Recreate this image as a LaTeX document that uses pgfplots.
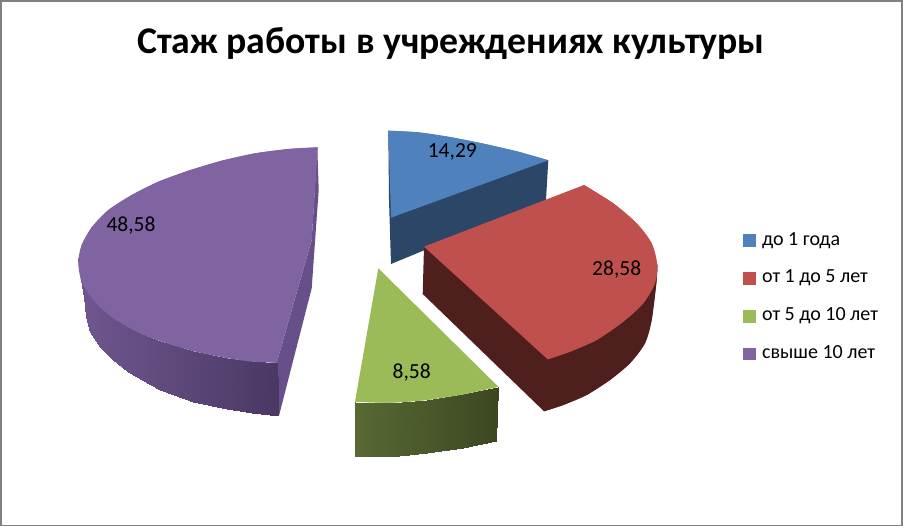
\documentclass[border=0pt]{standalone}
\usepackage{fontspec}
\setmainfont{Carlito}
\usepackage{pgfplots}
\pgfplotsset{compat=1.18}
\definecolor{cblue}{RGB}{79,129,189}
\definecolor{cred}{RGB}{192,80,77}
\definecolor{cgreen}{RGB}{155,187,89}
\definecolor{cviolet}{RGB}{128,100,162}
\definecolor{wblue}{RGB}{44,70,104}
\definecolor{wred}{RGB}{79,31,30}
\definecolor{wviolet}{RGB}{103,80,138}
\pgfplotsset{
  colormap={wallviolet}{rgb255=(112,87,144) rgb255=(74,57,99)},
  colormap={wallgreen}{rgb255=(88,105,52) rgb255=(60,71,33)},
  % each face is a polygon through the arc points, with the rounded arc laid over it
  face/.style={fill=#1,draw=none},
  arc/.style={fill=#1,draw=none,smooth},
  wall/.style={patch,patch type=rectangle,shader=interp,point meta=explicit,colormap name=#1},
}
\begin{document}
\begin{tikzpicture}
\begin{axis}[
  scale only axis,
  width=903pt,
  height=526pt,
  xmin=0, xmax=903,
  ymin=0, ymax=526,
  y dir=reverse,
  hide axis,
  point meta min=0,
  point meta max=1,
  no markers,
  every axis plot/.append style={forget plot},
  legend style={at={(axis cs:740,228)},anchor=north west,draw=none,fill=none,
    font=\fontsize{20}{20}\selectfont,row sep=16.8pt,
    nodes={text height=13pt,text depth=4pt,inner sep=2pt}},
  legend cell align=left,
]
% frame
\addplot[fill={rgb,255:red,128;green,128;blue,128},draw=none] coordinates {(0,0)(903,0)(903,526)(0,526)};
\addplot[fill=white,draw=none] coordinates {(2,2)(901,2)(901,525)(2,525)};

% blue slice
\addplot[face=wblue] coordinates {(388.3,130.7)(548.3,160.3)(546,200)(391,264)(389,200)};
\addplot[face=cblue] coordinates {(391,217.7)(388.3,130.7)(418.3,132.3)(451.7,137.3)(485,144)(518.3,151.7)(548.3,160.3)};
\addplot[arc=cblue] coordinates {(388.3,130.7)(418.3,132.3)(451.7,137.3)(485,144)(518.3,151.7)(548.3,160.3)};

% red slice
\addplot[face=wred] coordinates {(424,246.7)(422.7,294)(544,411.3)(563.3,405)(586.7,395)(610,380)(630,363.3)(645,343.3)(651.7,320)(656.7,280)(657.3,265)};
\addplot[arc=wred] coordinates {(544,411.3)(563.3,405)(586.7,395)(610,380)(630,363.3)(645,343.3)(651.7,320)(656.7,280)(657.3,265)};
\addplot[face=cred] coordinates {(424,246.7)(584,185)(613.3,203.3)(636.7,223.3)(651.7,243.3)(657.3,265)(655,283.3)(643.3,303.3)(623.3,321.7)(596.7,340)(570,351.7)(547.7,359.3)};
\addplot[arc=cred] coordinates {(584,185)(613.3,203.3)(636.7,223.3)(651.7,243.3)(657.3,265)(655,283.3)(643.3,303.3)(623.3,321.7)(596.7,340)(570,351.7)(547.7,359.3)};

% green slice
\addplot[wall=wallgreen] coordinates {
  (355,401.7)[0] (390,402.7)[0.25] (390,456.7)[0.25] (355,456)[0]
  (390,402.7)[0.25] (426.7,400)[0.5] (426.7,453.3)[0.5] (390,456.7)[0.25]
  (426.7,400)[0.5] (463.3,394.3)[0.75] (463.3,447.7)[0.75] (426.7,453.3)[0.5]
  (463.3,394.3)[0.75] (498.3,386.7)[1] (495.7,441)[1] (463.3,447.7)[0.75]
};
\addplot[face=cgreen] coordinates {(378.3,268.3)(355,401.7)(390,402.7)(426.7,400)(463.3,394.3)(498.3,386.7)};
\addplot[arc=cgreen] coordinates {(355,401.7)(390,402.7)(426.7,400)(463.3,394.3)(498.3,386.7)};

% violet slice
\addplot[face=wviolet] coordinates {(317.3,147.3)(318.7,190)(311.7,288.3)(279,415.7)(276.7,362.7)(311.7,240)};
\addplot[wall=wallviolet] coordinates {
  (78.3,258.3)[0] (81,280)[0.03] (84,296.7)[0.03] (78.3,258.3)[0]
  (81,280)[0.03] (85,287)[0.04] (85.7,316.7)[0.04] (84,296.7)[0.03]
  (85,287)[0.04] (89,294)[0.06] (90,331.7)[0.06] (85.7,316.7)[0.04]
  (89,294)[0.06] (100,307)[0.11] (100,346.7)[0.11] (90,331.7)[0.06]
  (100,307)[0.11] (113.3,318)[0.175] (113.3,360)[0.175] (100,346.7)[0.11]
  (113.3,318)[0.175] (128.3,327)[0.25] (128.3,371.7)[0.25] (113.3,360)[0.175]
  (128.3,327)[0.25] (141.7,334)[0.315] (141.7,380)[0.315] (128.3,371.7)[0.25]
  (141.7,334)[0.315] (160,341)[0.41] (160,390)[0.41] (141.7,380)[0.315]
  (160,341)[0.41] (193.3,351)[0.575] (193.3,401.7)[0.575] (160,390)[0.41]
  (193.3,351)[0.575] (226.7,358)[0.74] (226.7,409.3)[0.74] (193.3,401.7)[0.575]
  (226.7,358)[0.74] (252,361.5)[0.87] (252,413)[0.87] (226.7,409.3)[0.74]
  (252,361.5)[0.87] (276.7,362.7)[1] (279,415.7)[1] (252,413)[0.87]
};
\addplot[face=cviolet] coordinates {(311.7,240)(317.7,147.3)(288.3,149)(255,153.3)(221.7,160.7)(188.3,170.7)(158.3,181.7)(131.7,195)(108.3,210)(91.7,227.3)(81.7,245)(78.3,261.7)(81,280)(89,294)(100,307)(113.3,318)(136.7,331.7)(163.3,342)(193.3,351)(226.7,358)(252,361.5)(276.7,362.7)};
\addplot[arc=cviolet] coordinates {(317.7,147.3)(288.3,149)(255,153.3)(221.7,160.7)(188.3,170.7)(158.3,181.7)(131.7,195)(108.3,210)(91.7,227.3)(81.7,245)(78.3,261.7)(81,280)(89,294)(100,307)(113.3,318)(136.7,331.7)(163.3,342)(193.3,351)(226.7,358)(252,361.5)(276.7,362.7)};

% legend
\addlegendimage{legend image code/.code={\fill[cblue] (0pt,-5.5pt) rectangle (11.5pt,6pt);\path (16.5pt,0pt);}}
\addlegendentry{до 1 года}
\addlegendimage{legend image code/.code={\fill[cred] (0pt,-5.5pt) rectangle (11.5pt,6pt);\path (16.5pt,0pt);}}
\addlegendentry{от 1 до 5 лет}
\addlegendimage{legend image code/.code={\fill[cgreen] (0pt,-5.5pt) rectangle (11.5pt,6pt);\path (16.5pt,0pt);}}
\addlegendentry{от 5 до 10 лет}
\addlegendimage{legend image code/.code={\fill[cviolet] (0pt,-5.5pt) rectangle (11.5pt,6pt);\path (16.5pt,0pt);}}
\addlegendentry{свыше 10 лет}

% labels
\node[font=\fontsize{21.5}{21.5}\selectfont] at (axis cs:452.3,152) {14,29};
\node[font=\fontsize{21.5}{21.5}\selectfont] at (axis cs:616.7,270) {28,58};
\node[font=\fontsize{21.5}{21.5}\selectfont] at (axis cs:411.7,373) {8,58};
\node[font=\fontsize{21.5}{21.5}\selectfont] at (axis cs:131,226) {48,58};
\node[font=\bfseries\fontsize{37.7}{37.7}\selectfont] at (axis cs:451,44) {Стаж работы в учреждениях культуры};
\end{axis}
\end{tikzpicture}
\end{document}
